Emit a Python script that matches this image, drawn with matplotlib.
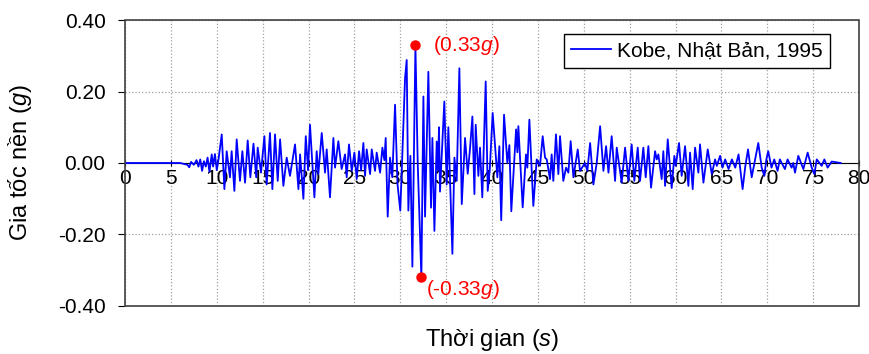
import matplotlib
matplotlib.use('Agg')
import matplotlib.pyplot as plt
from matplotlib.patches import Rectangle

plt.rcParams['font.family'] = 'Liberation Sans'
plt.rcParams['mathtext.fontset'] = 'custom'
plt.rcParams['mathtext.it'] = 'Liberation Sans:italic'
plt.rcParams['mathtext.rm'] = 'Liberation Sans'
plt.rcParams['font.size'] = 15

# ground acceleration record, peaks (time s, accel g)
time_s = [0.0, 6.0, 6.8, 7.0, 7.2, 7.5, 7.8, 8.0, 8.2, 8.4, 8.6, 8.8, 9.0, 9.2, 9.45, 9.6, 9.8, 10.0, 10.2,
          10.54, 10.83, 11.08, 11.44, 11.62, 11.92, 12.17, 12.53, 12.79, 13.08, 13.37, 13.66, 14.0, 14.3,
          14.46, 14.82, 15.19, 15.44, 15.8, 16.06, 16.35, 16.64, 16.9, 17.26, 17.62, 17.98, 18.53, 18.9,
          19.08, 19.44, 19.7, 19.95,
          20.16, 20.64, 20.89, 21.07, 21.44, 21.8, 21.98, 22.34, 22.71, 22.89, 23.25, 23.61, 23.98, 24.16,
          24.41, 24.71, 25.0, 25.25, 25.51, 25.73, 25.98, 26.16, 26.34, 26.71, 26.89, 27.25, 27.43, 27.8,
          28.05, 28.27, 28.41, 28.63, 28.88, 29.13, 29.43, 29.7, 30.0,
          30.15, 30.52, 30.7, 30.88, 31.1, 31.32, 31.65, 31.9, 32.3, 32.52, 32.7, 33.06, 33.35, 33.5,
          33.72, 33.97, 34.1, 34.22, 34.33, 34.55, 34.8, 35.06, 35.24, 35.68, 35.9, 36.15, 36.44, 36.7,
          37.06, 37.35, 37.6, 37.86, 38.08, 38.22, 38.51, 38.69, 38.94, 39.31, 39.53, 39.75, 40.07,
          40.58, 40.8, 41.0, 41.31, 41.67, 41.89, 42.1, 42.62, 42.76, 42.87, 43.34, 43.7, 43.85, 44.07,
          44.5, 44.87, 45.23, 45.52, 45.78, 45.96, 46.32, 46.5, 46.68, 46.97, 47.23, 47.41, 47.77, 48.07,
          48.32, 48.57, 48.87, 49.34, 49.59, 50.13, 50.39, 50.69, 51.05, 51.41, 51.78, 52.14, 52.43,
          52.69, 53.04, 53.41, 53.59, 54.13, 54.5,
          54.86, 55.22, 55.51, 55.88, 56.13, 56.49, 56.75, 57.04, 57.33, 57.77, 57.95, 58.13, 58.49,
          58.67, 58.86, 59.15, 59.58, 59.87, 60.02, 60.38, 60.67, 61.04, 61.4, 61.58, 61.87, 62.13,
          62.49, 62.67, 63.04, 63.51, 63.95, 64.31, 64.5, 64.86, 65.12, 65.41, 65.78, 66.14, 66.51,
          66.87, 67.31, 67.6, 67.9, 68.3, 69.02, 69.39, 69.68, 69.9, 70.1, 70.46, 70.76, 71.12, 71.37,
          71.92, 72.21, 72.65, 72.83, 73.02, 73.38, 73.93, 74.4, 74.84, 75.13, 75.39, 75.93, 76.22,
          76.58, 77.02, 78.0]
accel_g = [0.0, 0.0, -0.005, -0.012, 0.003, -0.005, 0.008, -0.01, 0.01, -0.022, 0.005, -0.01, 0.015, -0.025, 0.024, -0.01, 0.025, -0.02, 0.012,
           0.08, -0.073, 0.033, -0.04, 0.033, -0.078, 0.066, -0.05, 0.033, -0.055, 0.063, -0.04, 0.054, -0.04,
           0.043, -0.027, 0.075, -0.06, 0.084, -0.073, 0.08, -0.05, 0.066, -0.064, 0.015, -0.036, 0.052, -0.073,
           0.024, -0.1, 0.075, -0.02,
           0.107, -0.096, 0.033, -0.031, 0.084, -0.027, 0.038, -0.096, 0.07, -0.013, 0.061, -0.017, 0.024, -0.04,
           0.052, -0.022, 0.029, -0.045, 0.033, -0.02, 0.056, -0.036, 0.038, -0.031, 0.038, -0.022, 0.029, -0.027,
           0.043, 0.008, 0.07, -0.15, 0.015, -0.04, 0.163, -0.06, -0.133,
           -0.03, 0.237, 0.288, -0.133, 0.02, -0.29, 0.33, 0.0, -0.32, 0.186, -0.15, 0.255, -0.125, 0.07,
           -0.19, 0.06, -0.02, 0.1, -0.08, 0.04, 0.172, -0.06, 0.1, -0.254, 0.015, -0.05, 0.265, -0.115,
           0.07, -0.03, 0.04, 0.13, -0.087, 0.107, -0.036, 0.043, -0.096, 0.228, -0.078, -0.02, 0.14,
           -0.04, 0.047, -0.16, 0.135, 0.0, 0.05, -0.135, 0.094, 0.03, 0.103, -0.124, 0.024, -0.013, 0.121,
           -0.12, 0.01, -0.008, 0.075, 0.015, 0.01, -0.045, 0.024, -0.05, 0.08, -0.031, 0.075, -0.05, -0.013,
           -0.027, 0.061, -0.04, 0.038, -0.022, 0.0, -0.022, 0.056, -0.06, 0.0, 0.103, -0.022, 0.047,
           -0.027, 0.075, -0.05, 0.043, -0.055, 0.043,
           -0.05, 0.052, -0.05, 0.043, -0.05, 0.043, -0.04, 0.047, -0.069, 0.033, 0.01, 0.024, -0.045,
           0.033, -0.064, 0.066, -0.07, 0.02, -0.008, 0.056, -0.036, 0.047, -0.064, 0.029, -0.073, 0.043,
           -0.027, 0.052, -0.055, 0.038, -0.031, 0.01, -0.008, 0.02, -0.013, 0.01, -0.017, 0.01, -0.013,
           0.024, -0.073, -0.01, 0.038, -0.04, 0.056, -0.013, -0.036, 0.01, 0.033, -0.013, 0.01, -0.022, 0.01,
           -0.017, 0.01, -0.013, 0.0, -0.027, 0.02, -0.017, 0.029, -0.013, -0.031, 0.01, -0.008, 0.01,
           -0.013, 0.004, 0.0]

peak_t = [31.65, 32.3]
peak_a = [0.33, -0.32]
peak_labels = ['(0.33$\\mathit{g}$)', '(-0.33$\\mathit{g}$)']
label_pos = [(33.6, 0.33), (32.8, -0.355)]

x_ticks = list(range(0, 81, 5))
y_ticks = [-0.4, -0.2, 0.0, 0.2, 0.4]

fig = plt.figure(figsize=(8.7, 3.54), dpi=100)
ax = fig.add_axes([0.1437, 0.1356, 0.8437, 0.8079])

ax.plot(time_s, accel_g, color='#0000ff', lw=1.3, label='Kobe, Nhật Bản, 1995', zorder=3)
ax.plot(peak_t, peak_a, 'o', color='#ff0000', ms=6.5, zorder=4)
for (lx, ly), txt in zip(label_pos, peak_labels):
    ax.text(lx, ly, txt, color='#ff0000', fontsize=15, va='center', ha='left')

ax.set_xlim(0, 80)
ax.set_ylim(-0.4, 0.4)
ax.set_xticks(x_ticks)
ax.set_yticks(y_ticks)
ax.set_yticklabels([f'{v:.2f}' for v in y_ticks])
ax.grid(True, color='#a0a0a0', linestyle=':', lw=0.9)

# x axis sits on the zero line, frame drawn separately
ax.spines['bottom'].set_position(('data', 0))
ax.spines['bottom'].set_color('black')
for s in ['top', 'left', 'right']:
    ax.spines[s].set_visible(False)
ax.add_patch(Rectangle((0, 0), 1, 1, transform=ax.transAxes, fill=False,
                       edgecolor='#404040', lw=1.2, clip_on=False, zorder=5))
ax.tick_params(axis='x', direction='inout', length=4, pad=2, labelsize=15)
ax.tick_params(axis='y', direction='out', length=5, pad=9, labelsize=15)

ax.set_ylabel('Gia tốc nền ($\\mathit{g}$)', fontsize=17)
ax.yaxis.set_label_coords(-0.124, 0.5)
fig.text(0.5655, 0.04, 'Thời gian ($\\mathit{s}$)', fontsize=17, ha='center', va='center')

leg = ax.legend(loc='upper right', bbox_to_anchor=(0.96, 0.95), borderaxespad=0,
                fancybox=False, framealpha=1, edgecolor='black', handlelength=1.9,
                handletextpad=0.3, borderpad=0.35, fontsize=15)
leg.get_frame().set_linewidth(1.0)

fig.savefig('out.png', dpi=100)
